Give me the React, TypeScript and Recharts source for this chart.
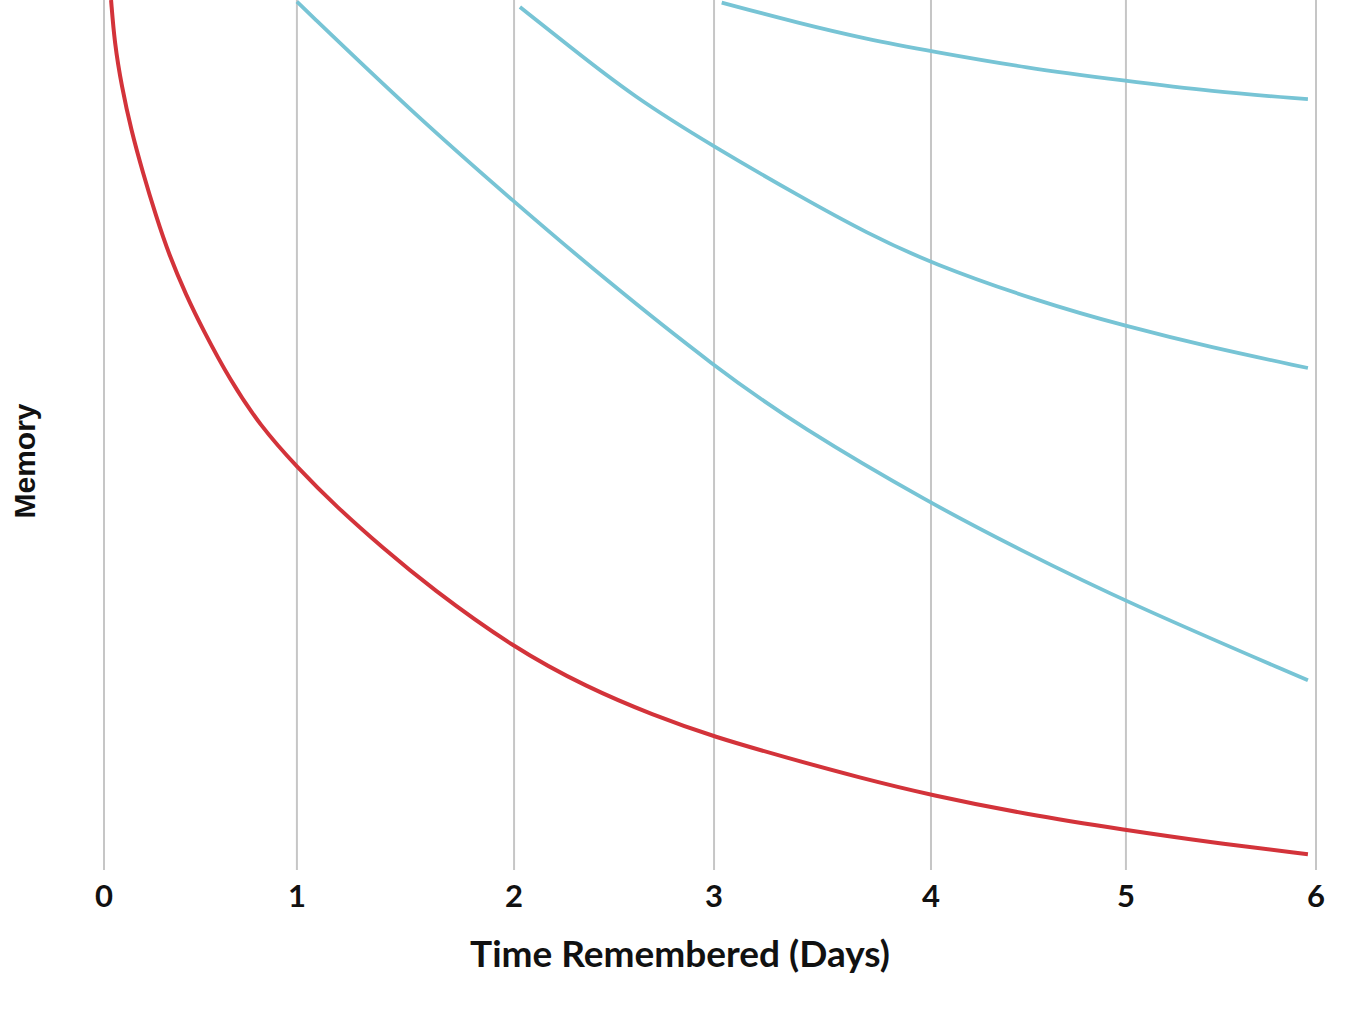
import { LineChart, Line, XAxis, YAxis, CartesianGrid, Label } from "recharts";

// x positions are in "chart days" (the gridlines in the source are not evenly spaced)
const TICK_POS = [0, 0.955, 2.03, 3.02, 4.094, 5.059, 6];
const TICK_LABELS = ["0", "1", "2", "3", "4", "5", "6"];

const FORGETTING = [
  { t: 0.035, m: 100 },
  { t: 0.052, m: 95.1 },
  { t: 0.088, m: 90 },
  { t: 0.134, m: 85.1 },
  { t: 0.193, m: 80.1 },
  { t: 0.257, m: 75.2 },
  { t: 0.322, m: 70.7 },
  { t: 0.406, m: 66.1 },
  { t: 0.49, m: 62.1 },
  { t: 0.624, m: 56.3 },
  { t: 0.772, m: 51.1 },
  { t: 0.955, m: 46.3 },
  { t: 1.153, m: 41.7 },
  { t: 1.381, m: 37.0 },
  { t: 1.614, m: 32.5 },
  { t: 2.03, m: 25.5 },
  { t: 2.391, m: 21.0 },
  { t: 2.718, m: 17.8 },
  { t: 3.02, m: 15.3 },
  { t: 3.381, m: 12.9 },
  { t: 3.743, m: 10.6 },
  { t: 4.094, m: 8.6 },
  { t: 4.564, m: 6.4 },
  { t: 5.059, m: 4.6 },
  { t: 5.475, m: 3.2 },
  { t: 5.96, m: 1.8 },
];

const REVIEW_1 = [
  { t: 0.955, m: 99.8 },
  { t: 1.53, m: 87.0 },
  { t: 2.03, m: 76.8 },
  { t: 2.485, m: 67.8 },
  { t: 3.025, m: 57.8 },
  { t: 3.446, m: 50.9 },
  { t: 4.094, m: 42.1 },
  { t: 4.535, m: 36.8 },
  { t: 5.059, m: 30.8 },
  { t: 5.96, m: 21.8 },
];

const REVIEW_2 = [
  { t: 2.059, m: 99.2 },
  { t: 2.291, m: 94.9 },
  { t: 2.62, m: 88.9 },
  { t: 3.021, m: 83.1 },
  { t: 3.446, m: 77.4 },
  { t: 3.776, m: 73.2 },
  { t: 4.098, m: 69.7 },
  { t: 4.634, m: 65.3 },
  { t: 5.059, m: 62.5 },
  { t: 5.475, m: 60.1 },
  { t: 5.96, m: 57.7 },
];

const REVIEW_3 = [
  { t: 3.058, m: 99.7 },
  { t: 3.446, m: 97.3 },
  { t: 3.776, m: 95.5 },
  { t: 4.098, m: 94.1 },
  { t: 4.564, m: 92.2 },
  { t: 5.059, m: 90.7 },
  { t: 5.475, m: 89.5 },
  { t: 5.96, m: 88.6 },
];

const RED = "#d3333a";
const CYAN = "#77c4d5";
const GRID = "#c6c6c6";
const TICK_FONT = "Lato, 'Open Sans', sans-serif";

function XTitle() {
  return (
    <text x={680} y={967} textAnchor="middle" fontFamily={TICK_FONT} fontWeight={700} fontSize={37} fill="#111">
      Time Remembered (Days)
    </text>
  );
}

function YTitle() {
  return (
    <text
      transform="translate(35,461) rotate(-90)"
      textAnchor="middle"
      fontFamily="'Liberation Sans', Arial, sans-serif"
      fontWeight={700}
      fontSize={30}
      fill="#111"
    >
      Memory
    </text>
  );
}

export default function App() {
  return (
    <div style={{ position: "absolute", left: 0, top: 0, background: "#fff" }}>
      <LineChart width={1352} height={1017} margin={{ top: 0, right: 36, bottom: 0, left: 0 }}>
        <CartesianGrid horizontal={false} stroke={GRID} strokeWidth={2} />
        <XAxis
          type="number"
          dataKey="t"
          domain={[0, 6]}
          ticks={TICK_POS}
          interval={0}
          tickFormatter={(_v, i) => TICK_LABELS[i]}
          axisLine={false}
          tickLine={false}
          tickMargin={9}
          height={147}
          tick={{ fontFamily: TICK_FONT, fontWeight: 700, fontSize: 31, fill: "#111" }}
        >
          <Label content={<XTitle />} />
        </XAxis>
        <YAxis type="number" domain={[0, 100]} width={104} tick={false} axisLine={false} tickLine={false}>
          <Label content={<YTitle />} />
        </YAxis>
        <Line data={FORGETTING} dataKey="m" type="basis" stroke={RED} strokeWidth={4} dot={false} isAnimationActive={false} />
        <Line data={REVIEW_1} dataKey="m" type="basis" stroke={CYAN} strokeWidth={3.8} dot={false} isAnimationActive={false} />
        <Line data={REVIEW_2} dataKey="m" type="basis" stroke={CYAN} strokeWidth={3.8} dot={false} isAnimationActive={false} />
        <Line data={REVIEW_3} dataKey="m" type="basis" stroke={CYAN} strokeWidth={3.8} dot={false} isAnimationActive={false} />
      </LineChart>
    </div>
  );
}
